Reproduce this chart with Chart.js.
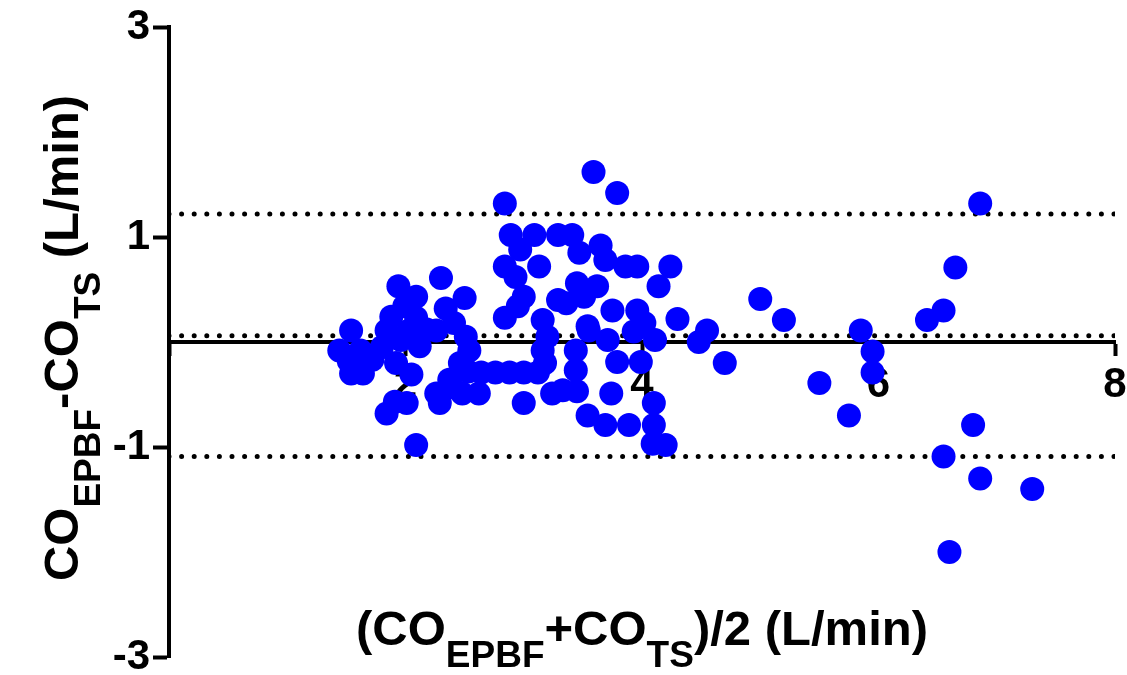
<!DOCTYPE html>
<html>
<head>
<meta charset="utf-8">
<script src="https://cdn.jsdelivr.net/npm/chart.js@4"></script>
<style>
  html, body { margin: 0; padding: 0; background: #fff; }
  #wrap { width: 1127px; height: 675px; }
</style>
</head>
<body>
<div id="wrap"><canvas id="baChart" width="1127" height="675"></canvas></div>
<script>
// mean of the two methods (L/min)
const meanValues = [
    1.44, 1.54, 1.52, 1.54, 1.64, 1.62, 1.72, 1.80, 1.84, 1.88, 1.94, 1.99, 2.09, 2.09, 2.03, 1.92,
    2.05, 2.12, 1.96, 2.18, 2.26, 2.30, 2.34, 2.41, 2.50, 2.51, 2.54, 2.46, 2.53, 2.26, 2.39, 2.29,
    2.48, 1.84, 1.91, 2.01, 2.09, 2.37,
    2.64, 2.76, 2.88, 3.00, 3.12, 2.62, 3.00, 2.84, 2.95, 3.00, 3.16, 3.29, 2.84, 2.93, 2.97, 3.13,
    2.89, 3.09, 3.29, 3.41, 2.84, 3.16, 3.18, 3.24, 3.20,
    3.59, 3.79, 3.65, 3.69, 3.86, 3.96, 4.24, 4.14, 3.45, 3.62, 3.36, 3.51, 3.75, 3.96, 4.30, 4.02,
    3.55, 3.71, 3.93, 4.11, 4.48, 4.55, 3.44, 3.79, 3.99, 3.44, 3.33, 3.45, 3.74, 4.10, 3.54, 3.69,
    3.89, 4.10, 4.09, 4.20, 3.47, 3.54,
    4.70, 5.00, 5.20, 5.50, 5.75, 5.85, 5.95, 5.95, 6.41, 6.55, 6.65, 6.86, 6.80, 6.55, 6.86, 7.30, 6.60
];
// difference between the two methods (L/min)
const diffValues = [
    -0.08, 0.11, -0.18, -0.30, -0.30, -0.08, -0.17, -0.05, 0.11, 0.24, 0.53, 0.34, 0.43, 0.23, 0.11, -0.20,
    -0.31, -0.04, 0.02, 0.12, 0.11, 0.61, 0.32, 0.18, 0.42, 0.05, -0.08, -0.20, -0.28, -0.49, -0.43, -0.58,
    -0.49, -0.68, -0.57, -0.58, -0.98, -0.36,
    -0.29, -0.29, -0.29, -0.29, -0.29, -0.49, -0.58, 0.23, 0.34, 0.43, 0.21, 0.40, 0.72, 0.62, 0.88, 0.72,
    1.02, 1.02, 1.02, 1.02, 1.32, -0.08, -0.20, -0.49, 0.05,
    1.62, 1.42, 0.92, 0.78, 0.72, 0.72, 0.72, 0.53, 0.56, 0.53, 0.37, 0.43, 0.30, 0.30, 0.22, 0.18,
    0.11, 0.02, 0.10, 0.02, 0.00, 0.11, -0.08, -0.19, -0.19, -0.27, -0.46, -0.47, -0.49, -0.58, -0.70, -0.79,
    -0.79, -0.79, -0.97, -0.98, 0.85, 0.15,
    -0.20, 0.41, 0.21, -0.39, -0.70, 0.11, -0.09, -0.29, 0.21, 0.30, 0.71, 1.32, -0.79, -1.09, -1.30, -1.40, -2.00
];

// bias and limits of agreement
const limitX = [0, 8];
const biasValue = 0.06;
const upperLimit = 1.22;
const lowerLimit = -1.09;

const xTicks = [0, 2, 4, 6, 8];
const yTicks = [-3, -1, 1, 3];

const xTitle = [['(CO', false], ['EPBF', true], ['+CO', false], ['TS', true], [')/2 (L/min)', false]];
const yTitle = [['CO', false], ['EPBF', true], ['-CO', false], ['TS', true], [' (L/min)', false]];

const mainFont = 'bold 49px "Liberation Sans", Arial, sans-serif';
const subFont = 'bold 37px "Liberation Sans", Arial, sans-serif';

function drawRichText(ctx, parts, cx, baseline) {
    let total = 0;
    parts.forEach(p => {
        ctx.font = p[1] ? subFont : mainFont;
        total += ctx.measureText(p[0]).width;
    });
    let x = cx - total / 2;
    ctx.textAlign = 'left';
    ctx.textBaseline = 'alphabetic';
    parts.forEach(p => {
        ctx.font = p[1] ? subFont : mainFont;
        ctx.fillText(p[0], x, p[1] ? baseline + 22 : baseline);
        x += ctx.measureText(p[0]).width;
    });
}

const axisTitles = {
    id: 'axisTitles',
    afterDraw(chart) {
        const ctx = chart.ctx;
        const area = chart.chartArea;
        ctx.save();
        ctx.fillStyle = '#000';
        drawRichText(ctx, xTitle, (area.left + area.right) / 2, 645);
        ctx.translate(78, 338);
        ctx.rotate(-Math.PI / 2);
        drawRichText(ctx, yTitle, 0, 0);
        ctx.restore();
    }
};

function limitLine(value) {
    return {
        type: 'scatter',
        data: limitX.map(x => ({ x: x, y: value })),
        showLine: true,
        borderColor: '#000',
        borderWidth: 5,
        borderDash: [0, 12.6],
        borderCapStyle: 'round',
        pointRadius: 0,
        order: 1
    };
}

const points = meanValues.map((m, i) => ({ x: m, y: diffValues[i] }));

new Chart(document.getElementById('baChart').getContext('2d'), {
    type: 'scatter',
    data: {
        datasets: [
            {
                data: points,
                backgroundColor: '#0000ff',
                borderWidth: 0,
                pointRadius: 12,
                pointHoverRadius: 12,
                order: 0
            },
            limitLine(upperLimit),
            limitLine(biasValue),
            limitLine(lowerLimit)
        ]
    },
    options: {
        responsive: false,
        animation: false,
        devicePixelRatio: 1,
        layout: { padding: { top: 27, right: 10, bottom: 18, left: 0 } },
        plugins: {
            legend: { display: false },
            tooltip: { enabled: false }
        },
        scales: {
            x: {
                type: 'linear',
                position: { y: 0 },
                min: 0,
                max: 8,
                afterBuildTicks: scale => { scale.ticks = xTicks.map(v => ({ value: v })); },
                afterFit: scale => {
                    scale.paddingLeft = 0;
                    scale.paddingRight = 0;
                    scale.paddingTop = 0;
                    scale.paddingBottom = 0;
                },
                grid: {
                    display: true,
                    drawOnChartArea: false,
                    drawTicks: true,
                    tickLength: 12,
                    tickWidth: 4,
                    tickColor: '#000'
                },
                border: { display: true, color: '#000', width: 4 },
                ticks: {
                    color: '#000',
                    padding: 6,
                    maxRotation: 0,
                    font: { family: '"Liberation Sans", Arial, sans-serif', size: 42, weight: 'bold' },
                    callback: v => (v === 0 ? '' : v)
                }
            },
            y: {
                type: 'linear',
                position: 'left',
                min: -3,
                max: 3,
                afterBuildTicks: scale => { scale.ticks = yTicks.map(v => ({ value: v })); },
                afterFit: scale => {
                    scale.width = 169;
                    scale.paddingTop = 0;
                    scale.paddingBottom = 0;
                },
                grid: {
                    display: true,
                    drawOnChartArea: false,
                    drawTicks: true,
                    tickLength: 16,
                    tickWidth: 4,
                    tickColor: '#000'
                },
                border: { display: true, color: '#000', width: 4 },
                ticks: {
                    color: '#000',
                    padding: 3,
                    font: { family: '"Liberation Sans", Arial, sans-serif', size: 42, weight: 'bold' }
                }
            }
        }
    },
    plugins: [axisTitles]
});
</script>
</body>
</html>
